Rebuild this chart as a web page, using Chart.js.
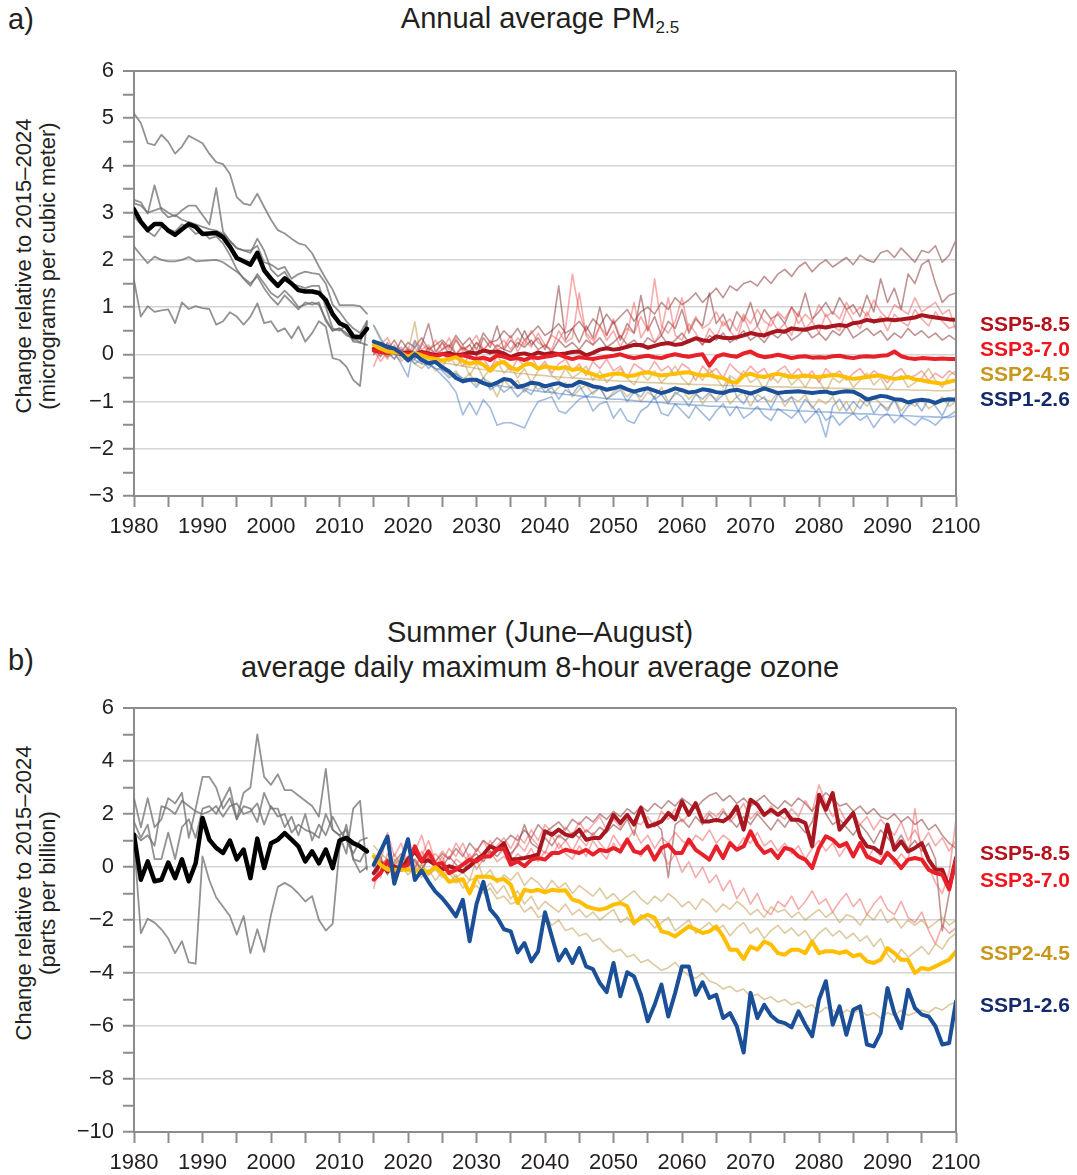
<!DOCTYPE html>
<html>
<head>
<meta charset="utf-8">
<script src="https://cdn.jsdelivr.net/npm/chart.js@4.4.1/dist/chart.umd.min.js"></script>
<style>
  html, body { margin: 0; padding: 0; background: #fff; }
  body { width: 1077px; height: 1175px; position: relative; overflow: hidden;
         font-family: "Liberation Sans", Arial, Helvetica, sans-serif; color: #231f20; }
  .panel { position: absolute; left: 8px; font-size: 29px; line-height: 29px; white-space: nowrap; }
  .title { position: absolute; left: 0; width: 1080px; text-align: center; font-size: 29px; line-height: 29px; white-space: nowrap; }
  .title sub { font-size: 17px; vertical-align: -5px; line-height: 0; }
  .ytitle { position: absolute; left: -164px; width: 400px; height: 48px; font-size: 22px; line-height: 24px;
            text-align: center; transform: rotate(-90deg); white-space: nowrap; }
  .ssp { position: absolute; left: 980px; font-weight: bold; font-size: 21px; line-height: 21px; white-space: nowrap; }
  canvas { position: absolute; left: 0; }
</style>
</head>
<body>
<div class="panel" style="top:5px">a)</div>
<div class="title" style="top:4px">Annual average PM<sub>2.5</sub></div>
<div class="ytitle" style="top:242px">Change relative to 2015–2024<br>(micrograms per cubic meter)</div>
<canvas id="pm" width="1077" height="510" style="top:40px"></canvas>
<div class="ssp" style="top:313px;color:#b3121c">SSP5-8.5</div>
<div class="ssp" style="top:338px;color:#f2141c">SSP3-7.0</div>
<div class="ssp" style="top:363px;color:#c8961a">SSP2-4.5</div>
<div class="ssp" style="top:388px;color:#14296b">SSP1-2.6</div>

<div class="panel" style="top:646px">b)</div>
<div class="title" style="top:618px">Summer (June–August)</div>
<div class="title" style="top:653px">average daily maximum 8-hour average ozone</div>
<div class="ytitle" style="top:869px">Change relative to 2015–2024<br>(parts per billion)</div>
<canvas id="o3" width="1077" height="506" style="top:680px"></canvas>
<div class="ssp" style="top:842px;color:#b3121c">SSP5-8.5</div>
<div class="ssp" style="top:869px;color:#f2141c">SSP3-7.0</div>
<div class="ssp" style="top:942px;color:#c8961a">SSP2-4.5</div>
<div class="ssp" style="top:994px;color:#14296b">SSP1-2.6</div>

<script>
// first year of the historical runs and of the projections
const histStart = 1980;
const projStart = 2015;

// ---------- a) PM2.5, historical 1980-2014 ----------
const pmHistMean = [3.07, 2.81, 2.63, 2.76, 2.76, 2.62, 2.53, 2.65, 2.76, 2.70,
  2.55, 2.56, 2.57, 2.48, 2.28, 2.04, 1.97, 1.90, 2.15, 1.78,
  1.60, 1.45, 1.61, 1.50, 1.36, 1.33, 1.33, 1.30, 1.15, 0.85,
  0.66, 0.59, 0.38, 0.36, 0.54];
const pmHistModels = [
  [5.10, 4.90, 4.47, 4.43, 4.65, 4.50, 4.25, 4.40, 4.63, 4.55,
   4.47, 4.25, 4.07, 4.03, 3.82, 3.33, 3.19, 3.16, 3.40, 3.12,
   2.85, 2.63, 2.56, 2.45, 2.35, 2.31, 2.14, 1.86, 1.60, 1.37,
   1.04, 1.04, 1.04, 1.02, 0.86],
  [3.27, 3.22, 2.98, 3.58, 3.05, 2.90, 2.95, 2.85, 2.80, 2.75,
   2.70, 2.65, 2.62, 2.55, 2.40, 2.25, 2.20, 2.15, 2.45, 2.20,
   1.80, 1.65, 1.75, 1.50, 1.45, 1.40, 1.45, 1.45, 1.00, 0.55,
   0.50, 0.62, 0.27, 0.25, 0.60],
  [3.20, 3.15, 3.00, 3.05, 3.10, 3.00, 2.92, 3.05, 3.15, 3.15,
   2.95, 2.75, 3.52, 2.60, 2.40, 2.25, 2.20, 2.20, 2.30, 1.95,
   1.90, 1.80, 1.85, 1.60, 1.70, 1.75, 1.72, 1.70, 1.50, 1.05,
   0.90, 0.70, 0.55, 0.45, 0.70],
  [2.92, 2.75, 2.60, 2.50, 2.70, 2.65, 2.60, 2.75, 2.70, 2.55,
   2.60, 2.45, 2.50, 2.35, 2.10, 1.80, 1.60, 1.45, 1.70, 1.50,
   1.30, 1.20, 1.35, 1.20, 1.00, 1.05, 1.10, 1.05, 0.75, 0.50,
   0.55, 0.45, 0.30, 0.35, 0.65],
  [2.28, 2.10, 1.93, 2.07, 2.00, 1.97, 1.97, 2.00, 2.06, 1.97,
   1.98, 1.99, 2.00, 1.95, 1.85, 1.75, 1.62, 1.50, 1.65, 1.40,
   1.20, 1.05, 1.25, 1.10, 0.95, 1.10, 1.05, 1.10, 0.70, 0.50,
   0.55, 0.40, 0.35, 0.25, 0.20],
  [1.57, 0.80, 1.02, 0.90, 0.93, 0.95, 0.66, 1.10, 0.96, 1.02,
   0.98, 0.96, 0.63, 0.70, 0.89, 0.80, 0.63, 0.80, 1.08, 0.66,
   0.70, 0.48, 0.55, 0.34, 0.59, 0.27, 0.45, 0.70, 0.59, -0.08,
   -0.12, -0.26, -0.54, -0.67, 0.70]
];

// ---------- a) PM2.5, projections 2015-2100 (multi-model means) ----------
const pmSsp126 = [0.27, 0.22, 0.16, 0.12, 0.02, -0.13, 0.00, -0.12, -0.19, -0.16,
  -0.27, -0.36, -0.50, -0.57, -0.54, -0.54, -0.61, -0.66, -0.60, -0.52,
  -0.55, -0.69, -0.66, -0.60, -0.62, -0.68, -0.64, -0.61, -0.67, -0.66,
  -0.58, -0.62, -0.68, -0.70, -0.75, -0.72, -0.68, -0.74, -0.79, -0.75,
  -0.72, -0.77, -0.82, -0.78, -0.72, -0.76, -0.81, -0.79, -0.74, -0.76,
  -0.80, -0.82, -0.77, -0.75, -0.79, -0.83, -0.78, -0.72, -0.77, -0.82,
  -0.80, -0.79, -0.78, -0.80, -0.82, -0.80, -0.79, -0.83, -0.80, -0.78,
  -0.79, -0.86, -0.96, -0.92, -0.88, -0.90, -0.95, -0.96, -1.02, -0.98,
  -0.96, -0.98, -1.03, -0.97, -0.95, -0.96];
const pmSsp245 = [0.20, 0.12, 0.06, 0.05, 0.03, -0.05, 0.03, -0.02, -0.07, -0.10,
  -0.13, -0.10, -0.06, -0.14, -0.20, -0.16, -0.22, -0.35, -0.20, -0.16,
  -0.28, -0.33, -0.22, -0.20, -0.30, -0.26, -0.28, -0.30, -0.27, -0.33,
  -0.30, -0.38, -0.42, -0.48, -0.44, -0.41, -0.41, -0.46, -0.45, -0.40,
  -0.38, -0.42, -0.45, -0.43, -0.41, -0.39, -0.38, -0.42, -0.45, -0.44,
  -0.48, -0.50, -0.58, -0.60, -0.45, -0.41, -0.46, -0.48, -0.44, -0.41,
  -0.45, -0.48, -0.47, -0.45, -0.47, -0.48, -0.46, -0.44, -0.45, -0.49,
  -0.52, -0.50, -0.48, -0.46, -0.45, -0.49, -0.52, -0.50, -0.48, -0.53,
  -0.55, -0.58, -0.60, -0.62, -0.58, -0.55];
const pmSsp370 = [0.08, 0.05, 0.03, 0.06, 0.00, 0.02, -0.02, 0.03, 0.00, -0.04,
  0.01, -0.03, -0.05, -0.02, -0.06, -0.10, -0.07, -0.12, -0.02, -0.05,
  -0.10, -0.08, -0.12, -0.06, -0.08, -0.05, -0.03, 0.00, -0.06, -0.10,
  -0.06, -0.08, -0.10, -0.07, -0.05, -0.03, 0.00, -0.05, -0.08, -0.05,
  -0.03, -0.06, -0.08, -0.03, 0.00, -0.03, -0.05, -0.02, 0.00, -0.24,
  -0.05, 0.00, -0.03, -0.05, 0.02, 0.06, -0.02, -0.06, -0.04, -0.01,
  -0.04, -0.08, -0.05, -0.04, -0.07, -0.06, -0.07, -0.04, -0.03, -0.06,
  -0.08, -0.05, -0.04, -0.05, -0.03, -0.02, 0.06, -0.04, -0.08, -0.10,
  -0.08, -0.09, -0.10, -0.09, -0.10, -0.10];
const pmSsp585 = [0.12, 0.10, 0.05, 0.08, 0.02, 0.04, 0.00, 0.05, 0.02, -0.02,
  0.00, 0.03, -0.02, 0.00, 0.04, 0.02, 0.08, 0.05, 0.06, 0.02,
  -0.06, 0.00, 0.02, -0.02, 0.04, 0.00, 0.03, 0.00, 0.02, 0.05,
  0.06, -0.02, 0.03, 0.10, 0.13, 0.10, 0.12, 0.16, 0.20, 0.20,
  0.14, 0.18, 0.22, 0.24, 0.20, 0.22, 0.28, 0.34, 0.30, 0.28,
  0.38, 0.35, 0.34, 0.36, 0.40, 0.45, 0.42, 0.40, 0.46, 0.50,
  0.48, 0.55, 0.53, 0.52, 0.56, 0.59, 0.57, 0.60, 0.62, 0.60,
  0.66, 0.68, 0.73, 0.70, 0.72, 0.74, 0.72, 0.74, 0.76, 0.78,
  0.83, 0.80, 0.78, 0.76, 0.74, 0.73];

// individual models, 2015-2100
const pmSsp126Models = [
  [0.62, 0.35, 0.10, 0.05, -0.20, -0.48, 0.28, -0.05, -0.20, -0.30,
   -0.45, -0.60, -0.80, -1.28, -1.02, -1.28, -0.96, -1.13, -1.50, -1.45,
   -1.45, -1.50, -1.56, -1.25, -1.00, -0.95, -0.90, -1.20, -1.25, -1.10,
   -0.95, -0.88, -1.20, -1.05, -1.00, -1.35, -1.15, -1.40, -1.46, -1.20,
   -1.10, -0.90, -1.25, -1.30, -1.05, -1.20, -1.35, -1.10, -1.25, -1.40,
   -1.20, -1.05, -1.30, -1.10, -1.35, -1.25, -1.10, -1.30, -1.40, -1.15,
   -1.25, -1.35, -1.20, -1.45, -1.30, -1.15, -1.40, -1.30, -1.50, -1.35,
   -1.25, -1.40, -1.30, -1.55, -1.35, -1.25, -1.45, -1.30, -1.40, -1.50,
   -1.35, -1.40, -1.50, -1.35, -1.30, -1.20],
  [0.22, 0.14, 0.12, 0.02, -0.02, -0.10, -0.12, -0.20, -0.22, -0.30,
   -0.33, -0.40, -0.42, -0.50, -0.52, -0.55, -0.60, -0.60, -0.65, -0.68,
   -0.70, -0.72, -0.72, -0.76, -0.78, -0.80, -0.80, -0.83, -0.85, -0.86,
   -0.88, -0.90, -0.90, -0.92, -0.94, -0.95, -0.95, -0.97, -0.98, -1.00,
   -1.00, -1.02, -1.02, -1.04, -1.05, -1.06, -1.06, -1.08, -1.08, -1.10,
   -1.10, -1.11, -1.12, -1.12, -1.14, -1.15, -1.15, -1.16, -1.17, -1.17,
   -1.18, -1.19, -1.20, -1.20, -1.21, -1.22, -1.22, -1.23, -1.24, -1.24,
   -1.25, -1.26, -1.26, -1.27, -1.28, -1.28, -1.29, -1.30, -1.30, -1.31,
   -1.32, -1.32, -1.33, -1.33, -1.34, -1.30],
  [0.30, 0.20, 0.05, -0.10, 0.10, -0.05, -0.20, -0.10, -0.30, -0.15,
   -0.35, -0.50, -0.40, -0.60, -0.55, -0.70, -0.50, -0.75, -0.65, -0.80,
   -0.70, -0.90, -0.75, -0.85, -0.60, -0.80, -0.70, -0.95, -0.75, -0.85,
   -0.65, -0.90, -0.80, -0.70, -0.95, -0.85, -0.75, -1.00, -0.80, -0.90,
   -0.70, -0.95, -0.85, -1.05, -0.80, -0.90, -1.10, -0.85, -0.95, -0.80,
   -1.00, -0.85, -0.50, -0.90, -1.05, -0.80, -1.00, -0.90, -1.15, -0.85,
   -1.00, -0.90, -1.20, -0.95, -1.10, -1.30, -1.75, -1.10, -0.95, -1.20,
   -1.00, -1.15, -0.90, -1.25, -1.05, -1.20, -0.95, -1.30, -1.10, -1.00,
   -1.20, -0.95, -1.10, -1.30, -1.00, -0.90]
];
const pmSsp245Models = [
  [0.60, 0.30, 0.00, 0.15, -0.10, 0.05, 0.69, -0.20, 0.10, -0.15,
   -0.30, 0.00, -0.25, -0.10, -0.45, -0.20, -0.50, -0.30, -0.15, -0.40,
   -0.25, -0.50, -0.30, -0.60, -0.35, -0.20, -0.45, -0.55, -0.30, -0.50,
   -0.40, -0.25, -0.55, -0.35, -0.60, -0.45, -0.30, -0.50, -0.65, -0.40,
   -0.55, -0.35, -0.60, -0.45, -0.25, -0.50, -0.65, -0.40, -0.55, -0.30,
   -0.50, -0.70, -0.45, -0.55, -0.35, -0.60, -0.50, -0.75, -0.45, -0.60,
   -0.40, -0.65, -0.50, -0.70, -0.45, -0.55, -0.80, -0.50, -0.60, -0.45,
   -0.70, -0.55, -0.40, -0.65, -0.50, -0.75, -0.55, -0.45, -0.70, -0.60,
   -0.50, -0.30, -0.55, -0.70, -0.45, -0.35],
  [0.10, 0.05, -0.05, 0.00, -0.15, -0.05, -0.20, -0.30, -0.15, -0.35,
   -0.25, -0.45, -0.35, -0.55, -0.40, -0.65, -0.50, -0.60, -0.90, -0.55,
   -0.70, -0.55, -0.80, -0.60, -0.75, -0.65, -0.85, -0.70, -0.60, -0.90,
   -0.75, -0.65, -0.85, -0.70, -0.95, -0.80, -0.70, -0.90, -0.75, -1.00,
   -0.80, -0.90, -0.70, -1.00, -0.85, -0.75, -0.95, -0.80, -1.05, -0.85,
   -0.95, -0.75, -1.05, -0.90, -0.80, -1.10, -0.85, -0.95, -1.00, -0.80,
   -1.10, -0.90, -1.00, -0.85, -1.15, -0.95, -1.05, -0.90, -1.20, -1.00,
   -1.25, -0.95, -1.10, -0.90, -1.05, -1.15, -0.95, -1.20, -1.00, -1.10,
   -0.95, -1.15, -1.05, -0.90, -1.10, -1.00],
  [0.15, 0.10, 0.08, 0.02, 0.00, -0.04, -0.06, -0.10, -0.12, -0.15,
   -0.18, -0.20, -0.22, -0.25, -0.27, -0.30, -0.32, -0.33, -0.35, -0.37,
   -0.38, -0.40, -0.41, -0.43, -0.44, -0.45, -0.47, -0.48, -0.49, -0.50,
   -0.51, -0.52, -0.53, -0.54, -0.55, -0.56, -0.57, -0.57, -0.58, -0.59,
   -0.60, -0.60, -0.61, -0.62, -0.62, -0.63, -0.63, -0.64, -0.64, -0.65,
   -0.65, -0.66, -0.66, -0.67, -0.67, -0.67, -0.68, -0.68, -0.69, -0.69,
   -0.69, -0.70, -0.70, -0.70, -0.71, -0.71, -0.71, -0.72, -0.72, -0.72,
   -0.73, -0.73, -0.73, -0.74, -0.74, -0.74, -0.75, -0.75, -0.75, -0.76,
   -0.76, -0.76, -0.77, -0.77, -0.77, -0.75]
];
const pmSsp370Models = [
  [-0.25, 0.10, -0.10, 0.20, 0.00, 0.15, -0.05, 0.25, 0.05, 0.30,
   0.10, 0.35, 0.00, 0.20, -0.10, 0.25, 0.05, 0.30, 0.10, 0.15,
   0.40, 0.05, 0.30, 0.15, 0.45, 0.20, 0.10, 0.50, 0.25, 0.35,
   1.30, 0.40, 0.20, 0.60, 0.30, 0.50, 0.15, 0.45, 1.10, 0.35,
   0.60, 0.25, 0.50, 1.20, 0.40, 0.30, 0.65, 0.45, 0.20, 0.55,
   0.35, 0.70, 0.50, 0.30, 0.80, 0.45, 0.60, 0.35, 0.75, 0.50,
   0.65, 0.40, 0.90, 0.55, 0.70, 0.45, 0.85, 0.60, 0.50, 0.95,
   0.70, 0.55, 0.90, 0.65, 0.80, 0.50, 0.85, 0.70, 0.60, 0.95,
   0.75, 0.60, 0.90, 0.70, 0.55, 0.60],
  [0.10, -0.15, 0.05, -0.10, 0.10, -0.05, 0.15, -0.10, 0.00, -0.20,
   0.05, -0.15, -0.05, -0.25, 0.00, -0.20, -0.10, -0.30, -0.05, -0.20,
   -0.35, -0.10, -0.25, -0.05, -0.30, -0.15, -0.40, -0.20, -0.10, -0.35,
   -0.20, -0.45, -0.15, -0.30, -0.10, -0.35, -0.25, -0.50, -0.20, -0.30,
   -0.40, -0.15, -0.35, -0.25, -0.45, -0.20, -0.30, -0.55, -0.25, -0.40,
   -0.30, -0.50, -0.20, -0.35, -0.45, -0.25, -0.40, -0.30, -0.55, -0.35,
   -0.25, -0.45, -0.30, -0.50, -0.35, -0.60, -0.30, -0.45, -0.35, -0.55,
   -0.40, -0.30, -0.50, -0.35, -0.45, -0.60, -0.40, -0.30, -0.50, -0.45,
   -0.35, -0.55, -0.40, -0.50, -0.35, -0.45],
  [0.00, 0.20, 0.35, 0.05, 0.15, -0.05, 0.30, 0.10, 0.20, 0.00,
   0.25, 0.10, 0.35, 0.05, 0.20, 0.40, 0.10, 0.25, 0.15, 0.30,
   0.10, 0.35, 0.20, 0.50, 0.25, 0.15, 0.40, 0.30, 0.55, 1.70,
   0.90, 0.45, 0.30, 0.60, 0.40, 0.75, 0.35, 0.55, 0.45, 0.80,
   0.50, 1.60, 0.60, 0.45, 0.70, 1.20, 0.50, 0.80, 0.55, 0.65,
   0.90, 0.60, 0.75, 0.50, 0.85, 0.65, 0.95, 0.70, 0.60, 0.90,
   0.75, 1.00, 0.65, 0.85, 0.70, 1.05, 0.80, 0.90, 0.75, 1.10,
   0.85, 1.00, 0.80, 1.15, 0.90, 0.75, 1.05, 0.95, 0.85, 1.20,
   0.90, 1.00, 1.10, 0.85, 0.95, 0.50]
];
const pmSsp585Models = [
  [0.05, 0.20, 0.10, 0.30, 0.05, 0.25, 0.15, 0.35, 0.10, 0.20,
   0.30, 0.15, 0.40, 0.20, 0.35, 0.10, 0.45, 0.25, 0.30, 0.50,
   0.35, 0.55, 0.30, 0.45, 0.60, 0.40, 0.50, 0.65, 0.45, 0.55,
   0.70, 0.50, 0.75, 0.60, 0.85, 0.65, 0.80, 0.95, 0.70, 0.90,
   1.00, 0.85, 1.10, 0.95, 1.20, 1.05, 1.15, 1.30, 1.10, 1.25,
   1.40, 1.20, 1.45, 1.35, 1.50, 1.55, 1.45, 1.65, 1.50, 1.70,
   1.80, 1.65, 1.85, 1.95, 1.75, 1.90, 2.00, 1.85, 1.95, 2.05,
   1.90, 2.10, 2.00, 1.95, 2.15, 2.20, 2.05, 2.25, 2.10, 1.95,
   2.20, 2.15, 2.30, 1.95, 2.10, 2.42],
  [0.15, -0.05, 0.25, 0.00, 0.30, 0.10, -0.10, 0.20, 0.65, 0.05,
   0.25, 0.00, 0.30, 0.10, 0.20, -0.05, 0.35, 0.15, 0.60, 0.10,
   0.30, 0.15, 0.50, 0.20, 0.35, 0.10, 0.45, 1.45, 0.30, 0.55,
   0.25, 0.60, 0.35, 1.00, 0.40, 0.70, 0.30, 0.65, 0.45, 1.25,
   0.50, 0.80, 0.40, 0.70, 0.55, 0.95, 0.45, 0.75, 0.60, 1.30,
   0.65, 0.85, 0.50, 0.90, 0.70, 1.10, 0.60, 0.95, 0.75, 0.85,
   0.65, 1.00, 0.80, 1.30, 0.75, 0.90, 1.10, 0.85, 1.20, 0.95,
   1.05, 0.80, 1.25, 0.90, 1.60, 1.10, 1.40, 0.95, 1.70, 1.50,
   1.90, 2.00, 1.50, 1.10, 1.25, 1.30],
  [0.00, 0.10, -0.05, 0.15, 0.00, 0.10, 0.05, -0.05, 0.15, 0.00,
   0.10, 0.20, 0.00, 0.15, 0.05, 0.25, 0.10, 0.00, 0.20, 0.10,
   0.05, 0.25, 0.15, 0.30, 0.10, 0.20, 0.05, 0.30, 0.15, 0.25,
   0.10, 0.30, 0.20, 0.35, 0.15, 0.25, 0.40, 0.20, 0.30, 0.15,
   0.35, 0.25, 0.40, 0.20, 0.30, 0.45, 0.25, 0.35, 0.20, 0.40,
   0.30, 0.45, 0.25, 0.35, 0.50, 0.30, 0.40, 0.25, 0.45, 0.35,
   0.50, 0.30, 0.40, 0.55, 0.35, 0.45, 0.30, 0.50, 0.40, 0.60,
   0.35, 0.45, 0.55, 0.40, 0.50, 0.30, 0.45, 0.35, 0.55, 0.40,
   0.50, 0.35, 0.45, 0.30, 0.40, 0.30]
];

// ---------- b) ozone, historical 1980-2014 ----------
const o3HistMean = [1.22, -0.48, 0.21, -0.54, -0.48, 0.17, -0.42, 0.29, -0.54, 0.14,
  1.85, 1.03, 0.72, 0.53, 1.00, 0.29, 0.66, -0.42, 1.07, -0.04,
  0.90, 1.03, 1.28, 1.03, 0.78, 0.21, 0.59, 0.14, 0.66, -0.04,
  1.00, 1.10, 0.90, 0.78, 0.59];
const o3HistModels = [
  [2.6, 1.5, 2.6, 1.5, 1.8, 2.6, 2.4, 2.8, 1.1, 2.2,
   3.4, 3.4, 3.0, 2.2, 2.6, 1.8, 2.8, 3.0, 5.0, 3.4,
   3.1, 3.5, 2.9, 2.9, 2.7, 2.5, 2.3, 1.9, 3.7, 1.4,
   1.2, 0.5, 2.2, 2.5, -0.1],
  [1.7, 1.1, 1.6, 0.3, 0.3, 1.3, 0.3, 1.5, 1.8, 1.1,
   2.2, 2.3, 2.0, 2.5, 3.0, 1.8, 2.3, 2.2, 1.7, 2.8,
   2.2, 2.2, 1.5, 1.9, 1.2, 2.0, 1.0, 1.6, 1.2, 1.9,
   1.4, 1.0, 0.5, 1.0, 1.1],
  [1.3, 1.0, 1.2, 0.8, 2.3, 2.2, 2.0, 2.5, 2.3, 2.1,
   2.0, 2.1, 2.3, 1.9, 2.3, 2.4, 2.0, 2.1, 2.4, 1.6,
   2.3, 1.9, 2.0, 1.3, 1.6, 1.4, 1.3, 1.1, 2.0, 1.4,
   1.2, 1.4, 0.3, 0.2, 0.7],
  [1.0, -2.5, -1.95, -2.1, -2.35, -2.7, -3.25, -2.8, -3.6, -3.65,
   0.4, -0.5, -1.15, -1.5, -1.85, -2.55, -1.85, -3.25, -2.35, -3.2,
   -1.8, -0.75, -0.6, -0.75, -1.0, -1.3, -1.1, -2.0, -2.4, -2.15,
   0.7, 1.6, 0.3, -0.2, 0.0]
];

// ---------- b) ozone, projections 2015-2100 (multi-model means) ----------
const o3Ssp126 = [0.09, 0.60, 1.15, -0.63, 0.20, 1.05, -0.49, -0.13, -0.56, -0.93,
  -1.18, -1.50, -1.86, -1.24, -2.80, -1.40, -0.56, -1.60, -1.90, -2.35,
  -2.43, -3.22, -2.87, -3.56, -3.18, -1.71, -2.62, -3.53, -3.12, -3.62,
  -3.06, -3.75, -3.85, -4.38, -4.72, -3.62, -4.88, -3.97, -4.13, -4.82,
  -5.82, -5.20, -4.44, -5.64, -4.75, -3.75, -3.75, -4.82, -4.35, -4.94,
  -4.82, -5.70, -5.51, -6.01, -7.00, -4.75, -5.70, -5.20, -5.60, -5.82,
  -5.89, -6.05, -5.45, -5.95, -6.39, -5.00, -4.31, -5.95, -5.26, -6.33,
  -5.39, -5.26, -6.70, -6.77, -6.26, -4.57, -5.51, -6.08, -4.63, -5.32,
  -5.57, -5.64, -6.01, -6.70, -6.64, -5.07];
const o3Ssp245 = [0.40, 0.09, -0.10, -0.10, -0.10, -0.10, -0.15, -0.10, -0.20, 0.00,
  -0.23, -0.56, -0.50, -0.46, -1.00, -0.37, -0.37, -0.37, -0.50, -0.45,
  -0.67, -1.36, -0.86, -0.92, -0.86, -0.96, -0.86, -0.90, -0.88, -1.23,
  -1.30, -1.48, -1.56, -1.61, -1.55, -1.42, -1.36, -1.48, -2.11, -1.92,
  -1.80, -1.92, -2.43, -2.49, -2.62, -2.43, -2.24, -2.36, -2.49, -2.43,
  -2.24, -2.62, -3.12, -3.12, -3.47, -3.00, -3.12, -2.81, -2.93, -3.25,
  -3.31, -3.12, -3.12, -3.25, -2.81, -3.25, -3.18, -3.18, -3.25, -3.18,
  -3.37, -3.30, -3.56, -3.62, -3.50, -3.06, -3.25, -3.50, -3.50, -4.00,
  -3.81, -3.87, -3.75, -3.62, -3.50, -3.18];
const o3Ssp370 = [-0.48, -0.23, 0.21, -0.23, -0.04, 0.09, 0.78, 0.21, 0.59, 0.09,
  0.15, -0.23, -0.10, 0.09, 0.28, 0.21, 0.40, 0.40, 0.66, 0.70,
  0.09, 0.21, 0.03, 0.28, 0.34, 0.28, 0.53, 0.53, 0.65, 0.59,
  0.53, 0.65, 0.47, 0.65, 0.59, 0.72, 0.59, 1.03, 0.59, 0.53,
  0.78, 0.28, 0.72, 0.84, 0.53, 0.53, 1.03, 0.65, 0.47, 0.28,
  0.78, 0.34, 0.90, 0.65, 0.78, 1.35, 0.84, 0.53, 0.65, 0.34,
  0.72, 0.65, 0.40, 0.28, -0.04, 0.72, 1.16, 1.03, 0.78, 0.90,
  0.40, 0.90, 0.40, 0.28, 0.15, 0.53, 0.28, -0.04, 0.28, 0.34,
  0.28, -0.10, -0.23, -0.29, -0.85, 0.28];
const o3Ssp585 = [-0.23, 0.15, -0.17, 0.03, -0.10, 0.28, 0.59, 0.21, 0.25, 0.09,
  -0.10, 0.03, -0.05, -0.17, 0.03, 0.28, 0.47, 0.78, 0.66, 0.90,
  0.28, 0.30, 0.34, 0.40, 0.47, 1.35, 1.22, 1.41, 1.22, 1.16,
  1.41, 1.03, 1.09, 1.09, 1.41, 1.97, 1.66, 1.97, 1.60, 2.23,
  1.53, 1.60, 1.72, 2.04, 1.80, 2.48, 1.97, 2.41, 1.72, 1.72,
  1.78, 1.72, 1.90, 2.29, 1.41, 2.54, 2.35, 1.97, 2.16, 1.97,
  2.16, 1.78, 1.78, 1.66, 0.78, 2.73, 2.16, 2.79, 1.41, 1.72,
  2.04, 1.16, 0.78, 0.72, 0.53, 1.60, 0.65, 0.97, 0.59, 0.72,
  0.90, 0.28, -0.10, -0.10, -0.79, 0.34];

// individual models, 2015-2100
const o3Ssp245Models = [
  [0.8, 0.5, 0.3, 0.1, 0.4, 0.0, -0.2, 0.1, -0.3, -0.1,
   -0.4, -0.2, -0.6, -0.5, -0.9, -0.7, -1.0, -0.8, -1.2, -1.1,
   -1.4, -1.3, -1.7, -1.5, -1.9, -1.8, -2.2, -2.0, -2.4, -2.3,
   -2.6, -2.5, -2.8, -2.7, -3.0, -3.2, -3.1, -3.4, -3.3, -3.6,
   -3.5, -3.7, -3.9, -3.8, -3.6, -3.9, -4.1, -4.2, -4.0, -4.3,
   -4.4, -4.6, -4.5, -4.7, -4.6, -4.9, -4.8, -5.0, -4.9, -5.1,
   -5.0, -5.2, -5.1, -5.3, -5.2, -5.5, -5.3, -5.4, -5.6, -5.4,
   -5.5, -5.4, -5.6, -5.5, -5.7, -5.5, -5.6, -5.4, -5.6, -5.5,
   -5.4, -5.5, -5.3, -5.4, -5.2, -5.1],
  [0.2, -0.1, 0.3, -0.2, 0.1, -0.3, 0.0, -0.4, -0.1, -0.5,
   -0.2, -0.6, -0.3, -0.8, -0.5, -0.4, -0.9, -0.6, -1.0, -0.7,
   -1.2, -0.9, -1.4, -1.1, -1.6, -1.3, -1.5, -1.7, -1.4, -1.8,
   -1.6, -1.9, -1.7, -2.0, -1.8, -1.6, -2.1, -1.9, -2.2, -1.8,
   -2.0, -2.3, -2.1, -1.9, -2.4, -2.2, -2.0, -2.5, -2.3, -2.1,
   -2.4, -2.2, -2.6, -2.3, -2.1, -2.5, -2.3, -2.7, -2.4, -2.2,
   -2.5, -2.3, -2.6, -2.4, -2.8, -2.5, -2.3, -2.6, -2.4, -2.7,
   -2.5, -2.8, -2.6, -3.0, -2.7, -3.3, -3.6, -3.1, -3.4, -3.2,
   -3.0, -3.3, -2.9, -3.1, -2.7, -2.5],
  [0.5, 0.2, 0.0, 0.3, -0.1, 0.2, -0.2, 0.1, -0.3, 0.0,
   -0.3, -0.1, -0.4, -0.2, -0.5, 0.3, -0.4, -0.1, -0.6, -0.3,
   -0.5, -0.2, -0.7, -0.4, -0.6, -0.9, -0.5, -0.8, -0.6, -1.0,
   -0.7, -0.9, -1.1, -0.8, -1.2, -1.0, -1.3, -1.1, -0.9, -1.2,
   -1.4, -1.1, -1.3, -1.0, -1.2, -1.5, -1.3, -1.6, -1.2, -1.4,
   -1.7, -1.4, -1.6, -1.3, -1.5, -1.8, -1.6, -1.9, -1.5, -1.7,
   -1.6, -1.9, -1.7, -2.0, -1.8, -1.6, -1.9, -1.7, -2.1, -1.8,
   -1.9, -2.2, -1.8, -2.0, -1.6, -2.1, -1.9, -2.3, -2.0, -2.2,
   -2.0, -2.3, -2.1, -1.9, -2.2, -2.0]
];
const o3Ssp370Models = [
  [-0.8, 0.2, 1.3, 0.4, 0.9, 0.1, 0.6, 1.2, 0.3, 0.5,
   0.2, 0.7, 0.4, 0.9, 0.3, 0.6, 1.0, 0.5, 0.8, 1.1,
   0.7, 1.2, 0.9, 1.4, 1.0, 1.6, 1.3, 1.1, 1.5, 1.2,
   1.7, 1.3, 1.6, 1.9, 1.4, 1.8, 1.5, 2.0, 1.7, 1.6,
   1.9, 1.5, 2.1, 1.8, 2.2, 1.7, 2.0, 2.3, 1.8, 2.1,
   1.9, 2.2, 1.7, 2.0, 2.4, 1.8, 2.1, 1.9, 2.3, 2.0,
   1.8, 2.2, 1.9, 2.5, 2.1, 3.1, 2.4, 1.9, 2.2, 1.7,
   2.0, 1.6, 1.9, 1.4, 1.8, 1.5, 1.2, 1.7, 1.0, 1.4,
   0.9, 1.3, 0.8, 1.1, 0.6, 1.0],
  [-0.3, 0.3, -0.2, 0.5, 0.0, 0.4, -0.1, 0.6, 0.2, 0.0,
   0.4, -0.2, 0.3, 0.1, 0.5, -0.1, 0.3, 0.6, 0.2, 0.4,
   0.1, 0.5, 0.3, 0.7, 0.2, 0.6, 0.4, 0.9, 0.5, 0.3,
   0.8, 0.4, 1.0, 0.6, 0.3, 0.9, 0.5, 1.1, 0.7, 0.4,
   0.8, 0.3, 0.6, 0.1, 0.5, -0.2, 0.2, -0.4, 0.0, -0.6,
   -0.3, -0.9, -0.5, -1.2, -0.8, -1.4, -1.0, -1.6, -1.8, -1.3,
   -1.5, -1.1, -1.6, -1.3, -0.9, -1.4, -1.2, -1.7, -1.3, -1.0,
   -1.5, -1.2, -1.8, -1.4, -1.1, -1.6, -1.8, -1.3, -1.9, -2.1,
   -1.7, -2.4, -2.9, -2.2, -2.5, -2.3],
  [0.2, -0.4, 0.5, 0.1, 0.3, 0.8, 0.0, 0.4, 1.0, 0.2,
   0.6, 0.3, 0.9, 0.5, 0.1, 0.7, 0.4, 1.0, 0.6, 0.8,
   0.4, 0.9, 0.6, 1.1, 0.8, 0.5, 1.2, 0.7, 1.0, 0.6,
   1.1, 0.8, 1.3, 0.9, 0.6, 1.2, 0.8, 1.0, 1.4, 0.9,
   1.2, 0.7, 1.1, 0.9, 1.3, 1.0, 0.8, 1.2, 1.0, 1.4,
   0.9, 1.2, 1.0, 0.7, 1.1, 0.9, 1.3, 0.8, 1.0, 0.6,
   0.9, 0.5, 0.8, 0.3, 0.7, 1.0, 0.6, 0.9, 0.4, 0.8,
   0.5, 0.9, 0.3, 0.7, 0.4, 0.6, 0.1, 0.5, 0.2, 2.2,
   0.4, 0.0, -0.6, -1.0, -0.2, 1.8]
];
const o3Ssp585Models = [
  [0.0, 0.4, -0.3, 0.2, 0.5, 0.1, 0.3, -0.1, 0.4, 0.2,
   0.5, 0.3, 0.7, 0.4, 0.9, 0.6, 1.0, 0.8, 1.1, 0.9,
   1.2, 1.0, 1.4, 1.1, 1.6, 1.3, 1.5, 1.7, 1.4, 1.8,
   1.6, 1.9, 1.7, 2.0, 1.8, 2.1, 1.9, 2.2, 2.0, 2.3,
   2.1, 2.4, 2.2, 2.5, 2.3, 2.6, 2.4, 2.2, 2.5, 2.7,
   2.8, 2.5, 2.7, 2.4, 2.6, 2.3, 2.5, 2.7, 2.4, 2.2,
   2.5, 2.3, 2.6, 2.4, 2.1, 2.5, 2.8, 2.6, 2.3, 2.4,
   2.1, 2.3, 2.0, 2.2, 1.9, 1.8, 2.0, 1.7, 1.9, 1.6,
   1.8, 1.4, 1.6, 1.2, 0.9, 0.7],
  [-0.5, 0.1, 0.3, -0.2, 0.0, 0.4, 0.2, -0.1, 0.3, 0.1,
   0.0, 0.4, 0.1, -0.2, 0.3, 0.5, 0.2, 0.6, 0.4, 0.7,
   0.5, 0.8, 1.6, 0.9, 0.7, 1.1, 0.8, 1.2, 1.0, 1.3,
   1.1, 1.4, 1.2, 1.5, 1.3, 1.6, 1.4, 1.8, 1.2, 2.3,
   1.5, 1.7, 1.4, -0.4, 1.6, 1.8, 1.5, 1.9, 1.6, 2.0,
   1.7, 2.1, 1.8, 1.5, 1.9, 1.6, 2.0, 1.7, 1.4, 1.8,
   1.5, 1.9, 1.6, 1.3, 1.7, 2.6, 2.0, 1.6, 1.8, 1.5,
   1.2, 1.6, 1.3, 0.9, 1.4, 1.1, 0.8, 1.2, 0.7, 1.0,
   0.6, 0.9, 0.3, -2.4, -1.0, 0.5]
];

// ---------- styling ----------
const FONT = '"Liberation Sans", Arial, Helvetica, sans-serif';
Chart.defaults.font.family = FONT;
const AXIS = '#8c8c8c';
const GRID = '#d4d4d4';
const C = {
  hist: '#000000', histModel: 'rgba(110,110,110,0.75)',
  s126: '#1b4f97', s245: '#ffbe00', s370: '#e8202a', s585: '#a8161f',
  s126m: 'rgba(70,120,190,0.5)', s245m: 'rgba(190,150,70,0.5)',
  s370m: 'rgba(235,70,70,0.45)', s585m: 'rgba(130,40,40,0.5)'
};

function pts(start, vals) {
  return vals.map((v, i) => ({ x: start + i, y: v }));
}
function line(start, vals, color, width, order) {
  return {
    data: pts(start, vals), borderColor: color, borderWidth: width,
    pointRadius: 0, tension: 0, fill: false, order: order,
    borderJoinStyle: 'round', borderCapStyle: 'round'
  };
}
function fmt(v) {
  return v < 0 ? '\u2212' + Math.abs(v) : String(v);
}

// right-hand frame line of the plot box
const frame = {
  id: 'frame',
  afterDatasetsDraw(chart) {
    const a = chart.chartArea, ctx = chart.ctx;
    ctx.save();
    ctx.strokeStyle = AXIS;
    ctx.lineWidth = 2;
    ctx.beginPath();
    ctx.moveTo(a.right, a.top);
    ctx.lineTo(a.right, a.bottom);
    ctx.stroke();
    ctx.restore();
  }
};

function makeChart(id, datasets, yMin, yMax, yStep, isLabel, padTop) {
  return new Chart(document.getElementById(id), {
    type: 'line',
    data: { datasets },
    plugins: [frame],
    options: {
      responsive: false,
      animation: false,
      parsing: false,
      layout: { padding: { top: padTop, right: 121, left: 0, bottom: 0 } },
      plugins: { legend: { display: false }, tooltip: { enabled: false } },
      scales: {
        x: {
          type: 'linear', min: 1980, max: 2100,
          ticks: {
            stepSize: 5, autoSkip: false, maxRotation: 0, padding: 7,
            color: '#231f20', font: { size: 22 },
            callback: v => (v % 10 === 0 ? String(v) : '')
          },
          grid: { drawOnChartArea: false, tickLength: 11, tickColor: AXIS, tickWidth: 2 },
          border: { color: AXIS, width: 2 },
          afterFit: s => { s.height = 54; }
        },
        y: {
          type: 'linear', min: yMin, max: yMax,
          ticks: {
            stepSize: yStep, autoSkip: false, padding: 9,
            color: '#231f20', font: { size: 22 },
            callback: v => (isLabel(v) ? fmt(v) : '')
          },
          grid: {
            color: c => (c.tick.value === yMax ? AXIS : (isLabel(c.tick.value) ? GRID : 'rgba(0,0,0,0)')),
            lineWidth: c => (c.tick.value === yMax ? 2 : 1.5),
            tickLength: 11, tickColor: AXIS, tickWidth: 2
          },
          border: { color: AXIS, width: 2 },
          afterFit: s => { s.width = 134; }
        }
      }
    }
  });
}

// ---------- a) ----------
const pmSets = [
  line(histStart, pmHistMean, C.hist, 4.5, 0),
  line(projStart, pmSsp126, C.s126, 4, 1),
  line(projStart, pmSsp245, C.s245, 4, 2),
  line(projStart, pmSsp370, C.s370, 4, 3),
  line(projStart, pmSsp585, C.s585, 4, 4)
];
pmHistModels.forEach(m => pmSets.push(line(histStart, m, C.histModel, 1.8, 10)));
pmSsp126Models.forEach(m => pmSets.push(line(projStart, m, C.s126m, 1.6, 11)));
pmSsp245Models.forEach(m => pmSets.push(line(projStart, m, C.s245m, 1.6, 12)));
pmSsp370Models.forEach(m => pmSets.push(line(projStart, m, C.s370m, 1.6, 13)));
pmSsp585Models.forEach(m => pmSets.push(line(projStart, m, C.s585m, 1.6, 14)));
makeChart('pm', pmSets, -3, 6, 0.5, v => Number.isInteger(v), 31);

// ---------- b) ----------
const o3Sets = [
  line(histStart, o3HistMean, C.hist, 4.5, 0),
  line(projStart, o3Ssp126, C.s126, 4, 1),
  line(projStart, o3Ssp245, C.s245, 4, 2),
  line(projStart, o3Ssp370, C.s370, 4, 3),
  line(projStart, o3Ssp585, C.s585, 4, 4)
];
o3HistModels.forEach(m => o3Sets.push(line(histStart, m, C.histModel, 1.8, 10)));
o3Ssp245Models.forEach(m => o3Sets.push(line(projStart, m, C.s245m, 1.6, 12)));
o3Ssp370Models.forEach(m => o3Sets.push(line(projStart, m, C.s370m, 1.6, 13)));
o3Ssp585Models.forEach(m => o3Sets.push(line(projStart, m, C.s585m, 1.6, 14)));
makeChart('o3', o3Sets, -10, 6, 1, v => v % 2 === 0, 28);
</script>
</body>
</html>
